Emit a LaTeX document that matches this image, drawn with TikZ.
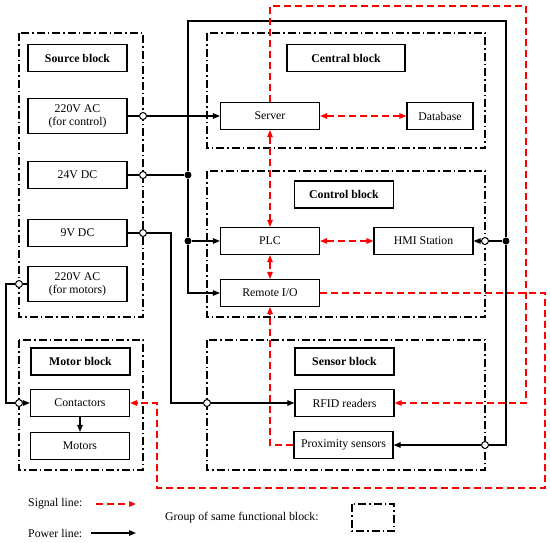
\documentclass[tikz,border=0pt]{standalone}
\usepackage{fontspec}
\setmainfont{Liberation Serif}
\usetikzlibrary{arrows.meta,positioning}

\tikzset{
    unit/.style={draw,line width=1.2pt,minimum width=99pt,minimum height=27pt,inner sep=0pt,align=center},
    title/.style={unit,font=\fontsize{11.8}{13}\selectfont\bfseries},
    group/.style={draw,line width=1.1pt,dash pattern=on 8pt off 3pt on 1.5pt off 3pt},
    wire/.style={line width=1.2pt},
    power/.style={wire,-{Triangle[length=7pt,width=5.5pt]}},
    signal/.style={draw=red,line width=1.3pt,dash pattern=on 7pt off 4pt,-{Triangle[length=7pt,width=5.5pt,fill=red]}},
    duplex/.style={signal,{Triangle[length=7pt,width=5.5pt,fill=red]}-{Triangle[length=7pt,width=5.5pt,fill=red]}},
    hole/.style={circle,draw,fill=white,line width=1pt,inner sep=0pt,minimum size=7pt},
    knot/.style={circle,fill,inner sep=0pt,minimum size=7pt},
}

\begin{document}
\begin{tikzpicture}[x=1pt,y=-1pt,font=\fontsize{11.8}{13}\selectfont]
        \useasboundingbox (0,0) rectangle (550,542);
        \def\lft{19}
        \def\mid{143}
        \def\rgt{485}

        \draw [group] (\lft,33) rectangle (\mid,317);
        \draw [group] (207,33) rectangle (\rgt,148);
        \draw [group] (207,171) rectangle (\rgt,317);
        \draw [group] (207,340) rectangle (\rgt,470);
        \draw [group] (\lft,340) rectangle (\mid,470);

        \node [title] (srctitle) at (77.5,58) {Source block};
        \node [unit,minimum height=35pt] (src220c) at (77.5,116) {220V AC\\(for control)};
        \node [unit] (src24) at (77.5,175) {24V DC};
        \node [unit] (src9) at (77.5,233) {9V DC};
        \node [unit,minimum height=35pt] (src220m) at (77.5,284) {220V AC\\(for motors)};

        \node [title,minimum width=118pt] (centtitle) at (346,58) {Central block};
        \node [unit] (server) at (270,116) {Server};
        \node [unit,minimum width=66pt] (database) at (440,116) {Database};

        \node [title] (ctrltitle) at (344,194.5) {Control block};
        \node [unit] (plc) at (270,241) {PLC};
        \node [unit] (hmi) at (423.5,241) {HMI Station};
        \node [unit] (rio) at (270,293) {Remote I/O};

        \node [title] (senstitle) at (344.5,361.5) {Sensor block};
        \node [unit] (rfid) at (344.5,403) {RFID readers};
        \node [unit] (prox) at (343.5,445) {Proximity sensors};

        \node [title] (mottitle) at (80.5,361.5) {Motor block};
        \node [unit] (contactors) at (80,403) {Contactors};
        \node [unit] (motors) at (80,446) {Motors};

        \foreach \n/\x/\y in {h1/\mid/116,h2/\mid/175,h3/\mid/233,h4/\lft/284,h5/\lft/403,h6/207/403,h7/\rgt/241,h8/\rgt/445} {
                \node [hole] (\n) at (\x,\y) {};
            }
        \foreach \n/\x/\y in {k1/188/175,k2/188/241,k3/506/241} {
                \node [knot] (\n) at (\x,\y) {};
            }

        \coordinate (ptl) at (188,21);
        \coordinate (ptr) at (506,21);
        \coordinate (pbr) at (506,445);
        \coordinate (mbend) at (6,403);
        \coordinate (vbend) at (171,403);
        \coordinate (str) at (526,6);
        \coordinate (rr) at (545,488);
        \coordinate (rl) at (157,488);

        \draw [wire] (src220c) -- (h1);
        \draw [power] (h1) -- (server);
        \draw [wire] (src24) -- (h2);
        \draw [wire] (h2) -- (k1);
        \draw [wire] (src9) -- (h3);
        \draw [wire] (h3) -| (vbend) -- (h6);
        \draw [power] (h6) -- (rfid);
        \draw [wire] (src220m) -- (h4);
        \draw [wire] (h4) -| (mbend) -- (h5);
        \draw [power] (h5) -- (contactors);
        \draw [power] (contactors) -- (motors);

        \draw [wire] (k1) -- (ptl) -- (ptr) -- (k3);
        \draw [wire] (k1) -- (k2);
        \draw [power] (k2) -- (plc);
        \draw [power] (k2) |- (rio);
        \draw [wire] (k3) -- (h7);
        \draw [power] (h7) -- (hmi);
        \draw [wire] (k3) -- (pbr) -- (h8);
        \draw [power] (h8) -- (prox);

        \draw [duplex] (server) -- (database);
        \draw [duplex] (server) -- (plc);
        \draw [duplex] (plc) -- (hmi);
        \draw [duplex] (plc) -- (rio);
        \draw [signal] (server) |- (str) |- (rfid);
        \draw [signal] (prox) -| (rio);
        \draw [signal] (rio) -| (rr) -- (rl) |- (contactors);

        \node [anchor=west,inner sep=0pt] (siglbl) at (28,504) {Signal line:};
        \coordinate (sigA) at (96,504);
        \coordinate (sigB) at (136,504);
        \draw [signal] (sigA) -- (sigB);
        \node [anchor=west,inner sep=0pt] (powlbl) at (28,533) {Power line:};
        \coordinate (powA) at (91,533);
        \coordinate (powB) at (136,533);
        \draw [power] (powA) -- (powB);
        \node [anchor=west,inner sep=0pt] (grplbl) at (165,518) {Group of same functional block:};
        \draw [group] (352,504) rectangle (394,531);
    \end{tikzpicture}
\end{document}
